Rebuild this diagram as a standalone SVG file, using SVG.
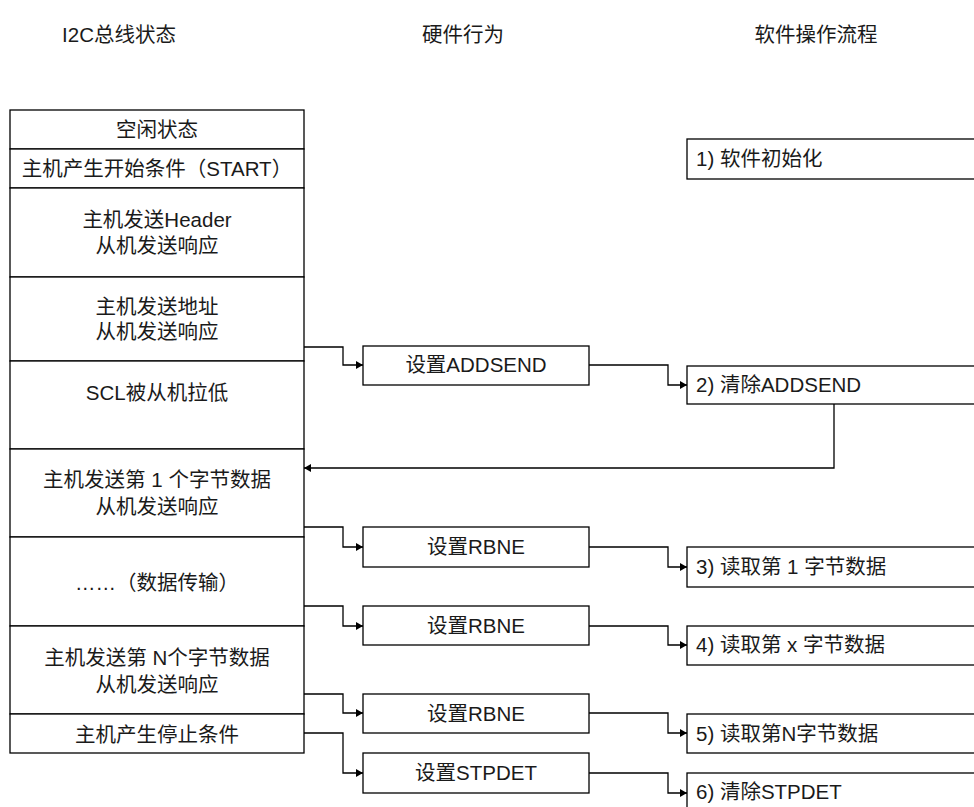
<svg xmlns="http://www.w3.org/2000/svg" width="974" height="807" viewBox="0 0 974 807">
<defs>
<style>
text{font-family:"Liberation Sans","Noto Sans CJK SC",sans-serif;font-size:20.5px;fill:#1a1a1a}
.c{text-anchor:middle}
.box{fill:#fff;stroke:#000;stroke-width:1.3}
.ln{fill:none;stroke:#000;stroke-width:1.3}
</style>
<marker id="ah" markerUnits="userSpaceOnUse" markerWidth="7" markerHeight="8" refX="7" refY="4" orient="auto">
<path d="M0,0 L7,4 L0,8 z" fill="#000"/>
</marker>
</defs>
<rect width="974" height="807" fill="#fff"/>
<g id="titles">
<text class="c" x="119" y="42">I2C总线状态</text>
<text class="c" x="463" y="42">硬件行为</text>
<text class="c" x="816" y="42">软件操作流程</text>
</g>
<g id="bus-states">
<g id="s1"><rect class="box" x="10" y="110" width="294" height="39"/><text class="c" x="157" y="137">空闲状态</text></g>
<g id="s2"><rect class="box" x="10" y="149" width="294" height="39"/><text class="c" x="157" y="176">主机产生开始条件（START）</text></g>
<g id="s3"><rect class="box" x="10" y="188" width="294" height="89"/><text class="c" x="157" y="227">主机发送Header</text><text class="c" x="157" y="253">从机发送响应</text></g>
<g id="s4"><rect class="box" x="10" y="277" width="294" height="84"/><text class="c" x="157" y="314">主机发送地址</text><text class="c" x="157" y="339">从机发送响应</text></g>
<g id="s5"><rect class="box" x="10" y="361" width="294" height="88"/><text class="c" x="157" y="400">SCL被从机拉低</text></g>
<g id="s6"><rect class="box" x="10" y="449" width="294" height="88"/><text class="c" x="157" y="487">主机发送第 1 个字节数据</text><text class="c" x="157" y="514">从机发送响应</text></g>
<g id="s7"><rect class="box" x="10" y="537" width="294" height="89"/><text class="c" x="157" y="590">……（数据传输）</text></g>
<g id="s8"><rect class="box" x="10" y="626" width="294" height="88"/><text class="c" x="157" y="665">主机发送第 N个字节数据</text><text class="c" x="157" y="692">从机发送响应</text></g>
<g id="s9"><rect class="box" x="10" y="714" width="294" height="39"/><text class="c" x="157" y="742">主机产生停止条件</text></g>
</g>
<g id="hw">
<g id="h1"><rect class="box" x="363" y="346" width="226" height="39"/><text class="c" x="476" y="372">设置ADDSEND</text></g>
<g id="h2"><rect class="box" x="363" y="527" width="226" height="40"/><text class="c" x="476" y="554">设置RBNE</text></g>
<g id="h3"><rect class="box" x="363" y="606" width="226" height="39"/><text class="c" x="476" y="633">设置RBNE</text></g>
<g id="h4"><rect class="box" x="363" y="694" width="226" height="39"/><text class="c" x="476" y="721">设置RBNE</text></g>
<g id="h5"><rect class="box" x="363" y="753" width="226" height="40"/><text class="c" x="476" y="780">设置STPDET</text></g>
</g>
<g id="sw">
<g id="w1"><rect class="box" x="687" y="139" width="300" height="40"/><text x="696" y="166">1) 软件初始化</text></g>
<g id="w2"><rect class="box" x="687" y="366" width="300" height="38"/><text x="696" y="392">2) 清除ADDSEND</text></g>
<g id="w3"><rect class="box" x="687" y="547" width="300" height="40"/><text x="696" y="574">3) 读取第 1 字节数据</text></g>
<g id="w4"><rect class="box" x="687" y="626" width="300" height="39"/><text x="696" y="652">4) 读取第 x 字节数据</text></g>
<g id="w5"><rect class="box" x="687" y="714" width="300" height="39"/><text x="696" y="741">5) 读取第N字节数据</text></g>
<g id="w6"><rect class="box" x="687" y="773" width="300" height="40"/><text x="696" y="799">6) 清除STPDET</text></g>
</g>
<g id="connectors" class="ln">
<path class="ln" d="M304,347 H343 V365 H363" marker-end="url(#ah)"/>
<path class="ln" d="M589,365 H668 V385 H687" marker-end="url(#ah)"/>
<path class="ln" d="M834,404 V468 H304" marker-end="url(#ah)"/>
<path class="ln" d="M304,527 H343 V547 H363" marker-end="url(#ah)"/>
<path class="ln" d="M589,547 H668 V567 H687" marker-end="url(#ah)"/>
<path class="ln" d="M304,606 H343 V626 H363" marker-end="url(#ah)"/>
<path class="ln" d="M589,626 H668 V645 H687" marker-end="url(#ah)"/>
<path class="ln" d="M304,694 H343 V713 H363" marker-end="url(#ah)"/>
<path class="ln" d="M589,713 H668 V733 H687" marker-end="url(#ah)"/>
<path class="ln" d="M304,733 H343 V773 H363" marker-end="url(#ah)"/>
<path class="ln" d="M589,773 H668 V793 H687" marker-end="url(#ah)"/>
</g>
</svg>
